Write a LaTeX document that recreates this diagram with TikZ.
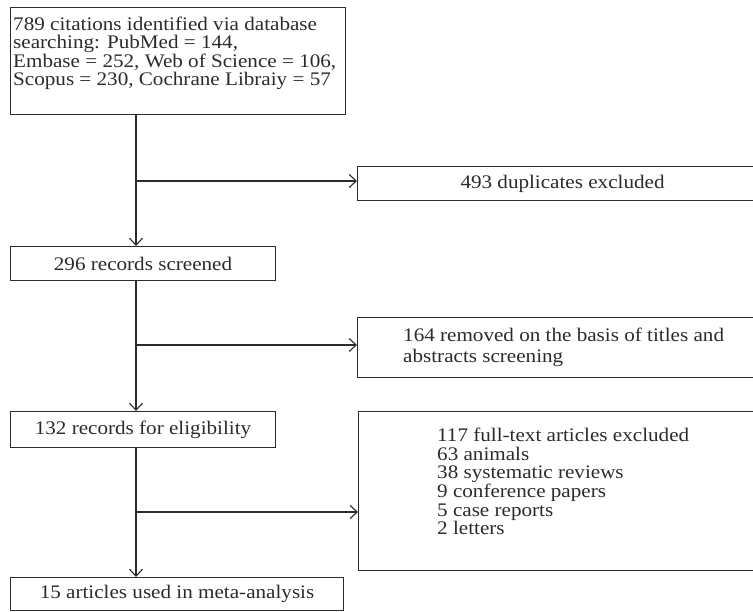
\documentclass[tikz,border=0pt]{standalone}
\usepackage{fontspec}
\setmainfont{Liberation Serif}[FakeStretch=1.1]
\usetikzlibrary{arrows.meta}
\definecolor{ink}{HTML}{2B2B2B}
\begin{document}
\begin{tikzpicture}[x=1pt,y=-1pt,
  boxframe/.style={draw=ink,line width=1.1pt,rectangle,inner sep=0pt,anchor=north west},
  txt/.style={inner sep=0pt,text=ink,font=\fontsize{19.2}{18.2}\selectfont,align=left},
  ctxt/.style={inner sep=0pt,text=ink,font=\fontsize{19.2}{18.2}\selectfont},
  conn/.style={draw=ink,line width=1.1pt,-{Straight Barb[length=7pt,width=13pt,line width=1.1pt]}}]
\useasboundingbox (0,0) rectangle (753,612);
\clip (0,0) rectangle (753,612);
% boxes
\node[boxframe,minimum width=335pt,minimum height=107pt] (b1) at (10,7) {};
\node[txt,anchor=north west] (t1) at (13,17) {789 citations identified via database\\searching: PubMed = 144,\\Embase = 252, Web of Science = 106,\\Scopus = 230, Cochrane Libraiy = 57};
\node[boxframe,minimum width=410pt,minimum height=34pt] (b2) at (357,166) {};
\node[ctxt] (t2) at (b2.center) {493 duplicates excluded};
\node[boxframe,minimum width=265pt,minimum height=34pt] (b3) at (10,246) {};
\node[ctxt] (t3) at (b3.center) {296 records screened};
\node[boxframe,minimum width=410pt,minimum height=60pt] (b4) at (357,317) {};
\node[txt,anchor=north west,font=\fontsize{19.2}{21}\selectfont] (t4) at (403,328) {164 removed on the basis of titles and\\abstracts screening};
\node[boxframe,minimum width=265pt,minimum height=36pt] (b5) at (10,411) {};
\node[ctxt] (t5) at (b5.center) {132 records for eligibility};
\node[boxframe,minimum width=410pt,minimum height=159pt] (b6) at (358,411) {};
\node[txt,anchor=north west,font=\fontsize{19.2}{18.6}\selectfont] (t6) at (437,428) {117 full-text articles excluded\\63 animals\\38 systematic reviews\\9 conference papers\\5 case reports\\2 letters};
\node[boxframe,minimum width=333pt,minimum height=33pt] (b7) at (10,577) {};
\node[ctxt] (t7) at (b7.center) {15 articles used in meta-analysis};
% junctions
\coordinate (s) at (136,0);
\coordinate (j1) at (136,181);
\coordinate (j2) at (136,345);
\coordinate (j3) at (136,512);
% connectors
\draw[conn] (s |- b1.south) -- (s |- b3.north);
\draw[conn] (j1) -- (j1 -| b2.west);
\draw[conn] (s |- b3.south) -- (s |- b5.north);
\draw[conn] (j2) -- (j2 -| b4.west);
\draw[conn] (s |- b5.south) -- (s |- b7.north);
\draw[conn] (j3) -- (j3 -| b6.west);
\end{tikzpicture}
\end{document}
